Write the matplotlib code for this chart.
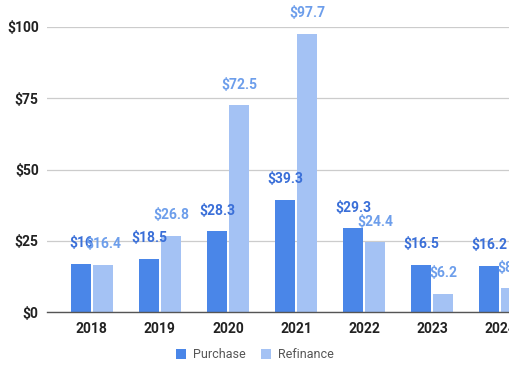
import matplotlib.pyplot as plt
import numpy as np

years = ["2018", "2019", "2020", "2021", "2022", "2023", "2024"]
purchase = [16.8, 18.5, 28.3, 39.3, 29.3, 16.5, 16.2]
refinance = [16.4, 26.8, 72.5, 97.7, 24.4, 6.2, 8.3]
purchase_labels = ["$16", "$18.5", "$28.3", "$39.3", "$29.3", "$16.5", "$16.2"]
refinance_labels = ["$16.4", "$26.8", "$72.5", "$97.7", "$24.4", "$6.2", "$8.3"]
yticks = [0, 25, 50, 75, 100]

plt.rcParams["font.family"] = ["Roboto", "DejaVu Sans"]

fig = plt.figure(figsize=(5.1, 3.82), dpi=100)
ax = fig.add_axes([47 / 510, 70 / 382, 498 / 510, 285 / 382])

x = np.arange(len(years))
w = 0.294
off = 0.162
c_pur, c_ref = "#4a86e8", "#a4c2f4"
ax.bar(x - off, purchase, w, color=c_pur, label="Purchase", zorder=3)
ax.bar(x + off, refinance, w, color=c_ref, label="Refinance", zorder=3)

for xi, v, t in zip(x, purchase, purchase_labels):
    ax.annotate(t, (xi - off, v), xytext=(0, 15), textcoords="offset points",
                ha="center", va="center", fontsize=10, fontweight="bold",
                color="#3a6fd8", annotation_clip=False)
for xi, v, t in zip(x, refinance, refinance_labels):
    ax.annotate(t, (xi + off, v), xytext=(0, 15), textcoords="offset points",
                ha="center", va="center", fontsize=10, fontweight="semibold",
                color="#6d9eeb", annotation_clip=False)

ax.set_xlim(-0.66, 6.66)
ax.set_ylim(0, 100)
ax.set_yticks(yticks)
ax.set_yticklabels([f"${v}" for v in yticks])
ax.set_xticks(x)
ax.set_xticklabels(years)
ax.grid(axis="y", color="#cccccc", lw=0.9, zorder=0)
for s in ["top", "right", "left"]:
    ax.spines[s].set_visible(False)
ax.spines["bottom"].set_color("#555555")
ax.spines["bottom"].set_linewidth(1.0)
ax.spines["bottom"].set_zorder(4)
ax.tick_params(length=0, labelsize=10, colors="#222222")
ax.tick_params(axis="y", pad=6)
ax.tick_params(axis="x", pad=7)
for lbl in ax.get_xticklabels() + ax.get_yticklabels():
    lbl.set_fontweight("bold")

fig.legend(loc="center", bbox_to_anchor=(255 / 510, 1 - 355 / 382), ncol=2,
           frameon=False, fontsize=9, handlelength=0.8, handleheight=0.8,
           columnspacing=1.2, handletextpad=0.6, labelcolor="#555555")

fig.savefig("out.png", dpi=100)
